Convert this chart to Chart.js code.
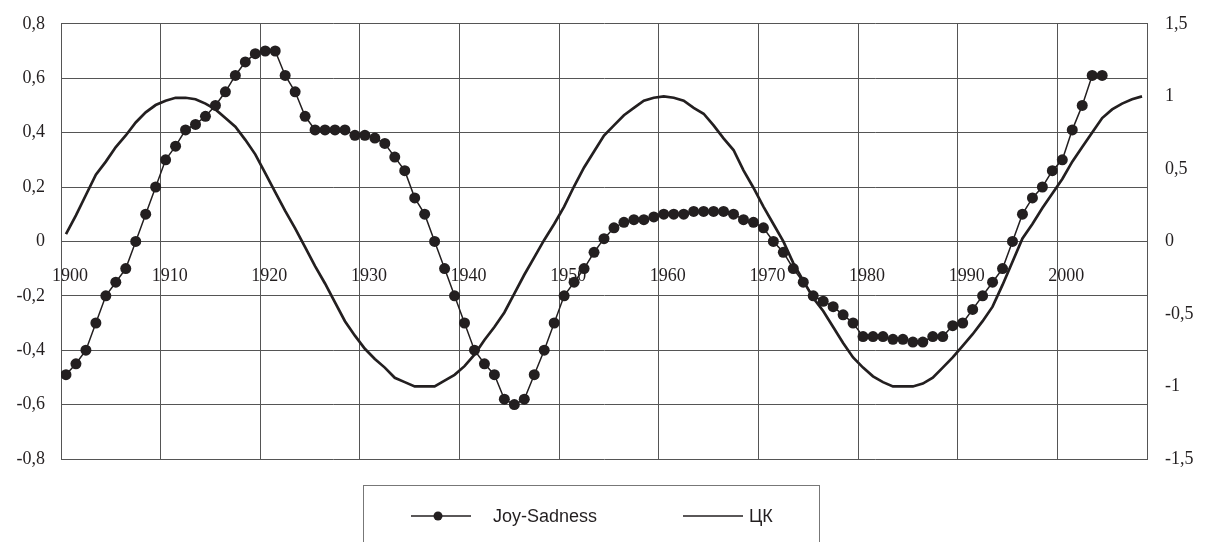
<!DOCTYPE html>
<html>
<head>
<meta charset="utf-8">
<script src="https://cdn.jsdelivr.net/npm/chart.js@4/dist/chart.umd.min.js"></script>
<style>
    body { margin: 0; background: #fff; }
    #wrap { position: relative; width: 1205px; height: 542px; overflow: hidden; }
    #chart { position: absolute; left: 0; top: -5px; }
    #legend {
        position: absolute; left: 363px; top: 485px; width: 457px; height: 80px;
        border: 1px solid #777; box-sizing: border-box;
        font-family: 'Liberation Sans', Arial, sans-serif; font-size: 18px; color: #231f20;
    }
    .item { position: absolute; top: 18px; height: 24px; display: flex; align-items: center; }
    .item svg { margin-right: 22px; }
</style>
</head>
<body>
<div id="wrap">
    <canvas id="chart" width="1205" height="547"></canvas>
    <div id="legend">
        <div class="item" style="left:47px">
            <svg width="60" height="12"><line x1="0" y1="6" x2="60" y2="6" stroke="#231f20" stroke-width="1.5"/><circle cx="27" cy="6" r="4.5" fill="#231f20"/></svg>
            <span>Joy-Sadness</span>
        </div>
        <div class="item" style="left:319px">
            <svg width="60" height="12" style="margin-right:6px"><line x1="0" y1="6" x2="60" y2="6" stroke="#231f20" stroke-width="1.5"/></svg>
            <span>ЦК</span>
        </div>
    </div>
</div>
<script>
// Years along the x axis
const firstYear = 1900;
const lastYear = 2008;
const years = [];
for (let y = firstYear; y <= lastYear; y++) years.push(y);

// Decade labels shown on the axis
const decadeLabels = ['1900', '1910', '1920', '1930', '1940', '1950', '1960', '1970', '1980', '1990', '2000'];

// Joy-Sadness index, 1900-2004 (left axis)
const joySadness = [
    -0.49, -0.45, -0.40, -0.30, -0.20, -0.15, -0.10, 0.00, 0.10, 0.20,
    0.30, 0.35, 0.41, 0.43, 0.46, 0.50, 0.55, 0.61, 0.66, 0.69,
    0.70, 0.70, 0.61, 0.55, 0.46, 0.41, 0.41, 0.41, 0.41, 0.39,
    0.39, 0.38, 0.36, 0.31, 0.26, 0.16, 0.10, 0.00, -0.10, -0.20,
    -0.30, -0.40, -0.45, -0.49, -0.58, -0.60, -0.58, -0.49, -0.40, -0.30,
    -0.20, -0.15, -0.10, -0.04, 0.01, 0.05, 0.07, 0.08, 0.08, 0.09,
    0.10, 0.10, 0.10, 0.11, 0.11, 0.11, 0.11, 0.10, 0.08, 0.07,
    0.05, 0.00, -0.04, -0.10, -0.15, -0.20, -0.22, -0.24, -0.27, -0.30,
    -0.35, -0.35, -0.35, -0.36, -0.36, -0.37, -0.37, -0.35, -0.35, -0.31,
    -0.30, -0.25, -0.20, -0.15, -0.10, 0.00, 0.10, 0.16, 0.20, 0.26,
    0.30, 0.41, 0.50, 0.61, 0.61
];

// ЦК curve, 1900-2008 (right axis)
const ck = [
    0.05, 0.18, 0.32, 0.46, 0.55, 0.65, 0.73, 0.82, 0.89, 0.94,
    0.97, 0.99, 0.99, 0.98, 0.95, 0.91, 0.85, 0.79, 0.70, 0.60,
    0.47, 0.34, 0.21, 0.09, -0.04, -0.17, -0.29, -0.42, -0.55, -0.65,
    -0.74, -0.81, -0.87, -0.94, -0.97, -1.00, -1.00, -1.00, -0.96, -0.92,
    -0.86, -0.78, -0.68, -0.59, -0.49, -0.36, -0.23, -0.11, 0.01, 0.12,
    0.24, 0.38, 0.51, 0.62, 0.73, 0.80, 0.87, 0.92, 0.97, 0.99,
    1.00, 0.99, 0.97, 0.92, 0.88, 0.80, 0.71, 0.63, 0.49, 0.37,
    0.24, 0.12, 0.00, -0.15, -0.27, -0.39, -0.48, -0.59, -0.70, -0.80,
    -0.87, -0.93, -0.97, -1.00, -1.00, -1.00, -0.98, -0.94, -0.87, -0.80,
    -0.72, -0.64, -0.55, -0.45, -0.30, -0.14, 0.02, 0.12, 0.23, 0.33,
    0.43, 0.55, 0.65, 0.75, 0.85, 0.91, 0.95, 0.98, 1.00
];

const ink = '#231f20';
const gridColor = '#555';
const tickFont = { family: "'Liberation Serif', 'Times New Roman', serif", size: 18 };
const comma = v => String(Math.round(v * 10) / 10).replace('.', ',');

// each year occupies one slot; grid lines sit on the slot boundaries
const slotEdge = label => Number(label) - 0.5;

new Chart(document.getElementById('chart'), {
    type: 'line',
    data: {
        labels: years,
        datasets: [
            {
                label: 'Joy-Sadness',
                data: joySadness,
                yAxisID: 'y',
                borderColor: ink,
                backgroundColor: ink,
                borderWidth: 1.5,
                pointRadius: 5.5,
                pointBackgroundColor: ink,
                pointBorderWidth: 0,
                tension: 0
            },
            {
                label: 'ЦК',
                data: ck,
                yAxisID: 'y2',
                borderColor: ink,
                borderWidth: 2.7,
                pointRadius: 0,
                tension: 0
            }
        ]
    },
    options: {
        responsive: false,
        animation: false,
        layout: { padding: { top: 13, bottom: 83, left: 0, right: 0 } },
        plugins: { legend: { display: false }, tooltip: { enabled: false } },
        scales: {
            x: {
                type: 'linear',
                position: { y: 0 },
                min: firstYear - 0.5,
                max: lastYear + 0.5,
                afterBuildTicks: s => {
                    s.ticks = decadeLabels.map(l => ({ value: slotEdge(l) }));
                },
                grid: { color: gridColor, drawTicks: false, lineWidth: 1 },
                border: { color: gridColor },
                ticks: {
                    maxRotation: 0,
                    padding: 24,
                    labelOffset: 9,
                    color: ink,
                    font: tickFont,
                    callback: v => String(Math.round(v + 0.5))
                }
            },
            y: {
                position: 'left',
                min: -0.8,
                max: 0.8,
                grid: { color: gridColor, drawTicks: false },
                border: { color: gridColor },
                ticks: { stepSize: 0.2, padding: 16, color: ink, font: tickFont, callback: comma },
                afterFit: s => { s.width = 61; }
            },
            y2: {
                position: 'right',
                min: -1.5,
                max: 1.5,
                grid: { drawOnChartArea: false, drawTicks: false },
                border: { color: gridColor },
                ticks: { stepSize: 0.5, padding: 18, color: ink, font: tickFont, callback: comma },
                afterFit: s => { s.width = 58; }
            }
        }
    }
});
</script>
</body>
</html>
